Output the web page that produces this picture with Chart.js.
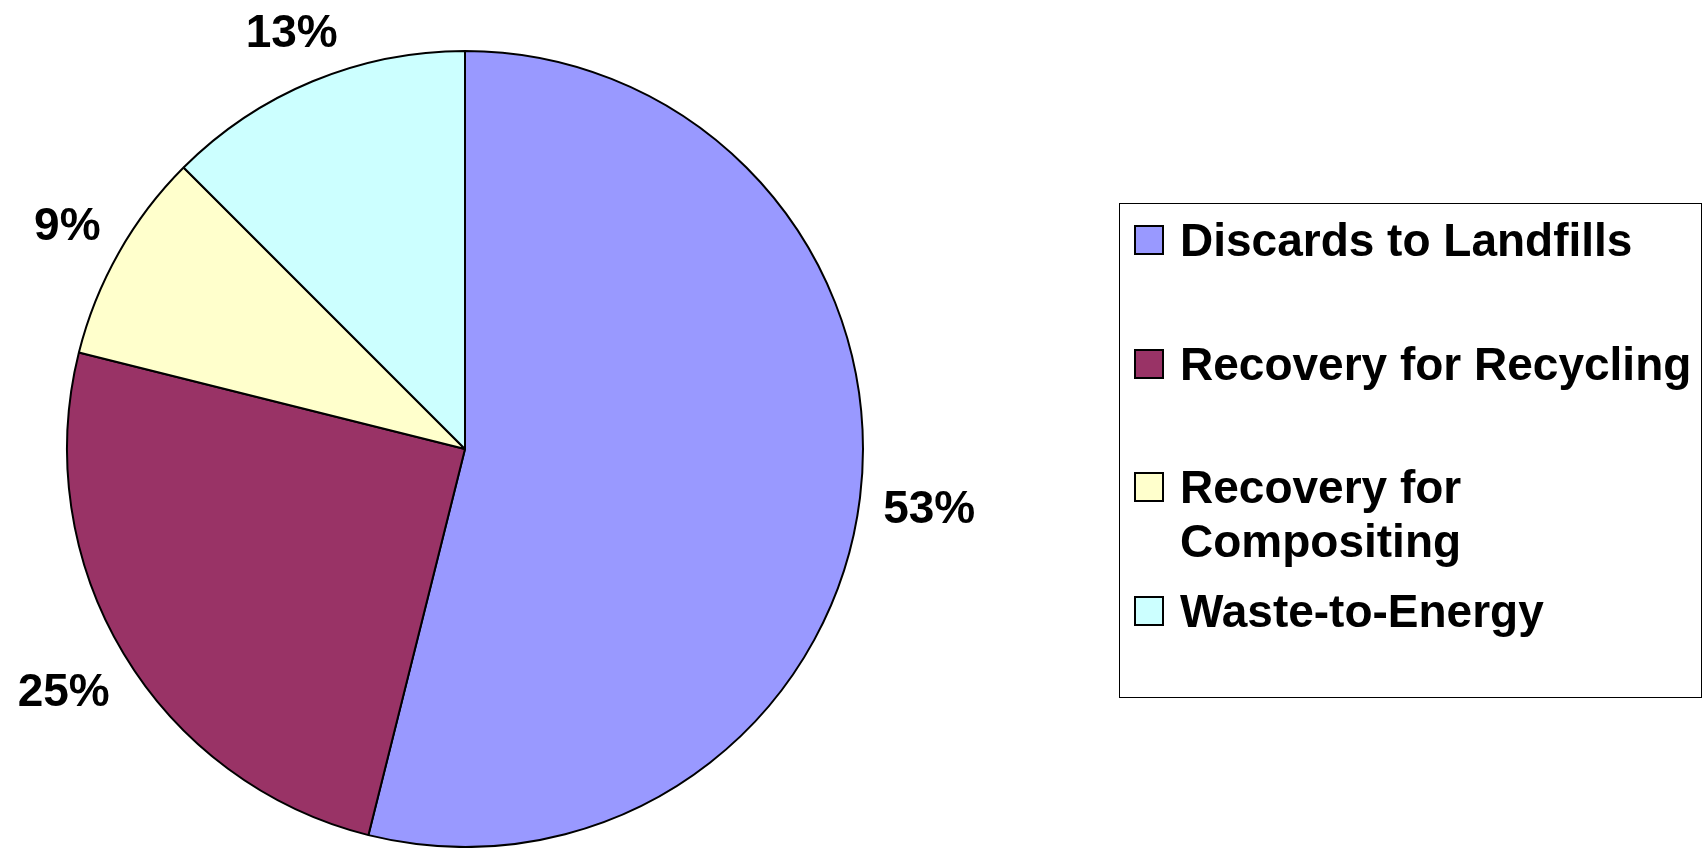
<!DOCTYPE html>
<html><head><meta charset="utf-8">
<script src="https://cdn.jsdelivr.net/npm/chart.js@4.4.0/dist/chart.umd.min.js"></script>
<style>html,body{margin:0;padding:0;background:#fff;overflow:hidden}
#wrap{position:relative;width:1708px;height:848px}</style>
</head><body><div id="wrap"><canvas id="c" width="1708" height="848"></canvas></div>
<script>
// ---- data ----
const categories = ["Discards to Landfills", "Recovery for Recycling", "Recovery for Compositing", "Waste-to-Energy"];
const shares = [53.9, 25.0, 8.6, 12.5];
const shareLabels = ["53%", "25%", "9%", "13%"];
const colors = ["#9999FF", "#993366", "#FFFFCC", "#CCFFFF"];

const FONT = 'bold 46px "Liberation Sans", Arial, Helvetica, sans-serif';
const CAP = 46 * 0.716;

const labelPlugin = {
  id: 'sliceLabels',
  afterDatasetsDraw(chart) {
    const ctx = chart.ctx;
    const meta = chart.getDatasetMeta(0);
    ctx.save();
    ctx.font = FONT;
    ctx.fillStyle = '#000';
    ctx.textAlign = 'center';
    ctx.textBaseline = 'alphabetic';
    meta.data.forEach((arc, i) => {
      const p = arc.getProps(['x', 'y', 'startAngle', 'endAngle', 'outerRadius'], true);
      const mid = (p.startAngle + p.endAngle) / 2;
      const w = ctx.measureText(shareLabels[i]).width;
      const d = p.outerRadius + 22 + Math.abs(Math.cos(mid)) * w / 2 + Math.abs(Math.sin(mid)) * CAP / 2;
      const cx = p.x + Math.cos(mid) * d;
      const cy = p.y + Math.sin(mid) * d;
      ctx.fillText(shareLabels[i], cx, cy + CAP / 2);
    });
    ctx.restore();
  }
};

const legendPlugin = {
  id: 'boxLegend',
  afterDraw(chart) {
    const ctx = chart.ctx;
    const L = {x: 1119, y: 203, w: 582, h: 494, swX: 1135, sw: 28, textX: 1180, lineH: 54, rows: [240, 364, 487, 611]};
    ctx.save();
    ctx.strokeStyle = '#000';
    ctx.lineWidth = 1;
    ctx.strokeRect(L.x + 0.5, L.y + 0.5, L.w, L.h);
    ctx.font = FONT;
    ctx.textAlign = 'left';
    ctx.textBaseline = 'alphabetic';
    const maxW = L.x + L.w - L.textX - 4;
    const labels = chart.data.labels;
    const bg = chart.data.datasets[0].backgroundColor;
    labels.forEach((lab, i) => {
      const words = lab.split(' ');
      const lines = [];
      let cur = '';
      words.forEach(wd => {
        const t = cur ? cur + ' ' + wd : wd;
        if (ctx.measureText(t).width > maxW && cur) { lines.push(cur); cur = wd; } else cur = t;
      });
      lines.push(cur);
      const cy = L.rows[i];
      ctx.fillStyle = bg[i];
      ctx.fillRect(L.swX, cy - L.sw / 2, L.sw, L.sw);
      ctx.lineWidth = 2;
      ctx.strokeStyle = '#000';
      ctx.strokeRect(L.swX, cy - L.sw / 2, L.sw, L.sw);
      ctx.fillStyle = '#000';
      lines.forEach((ln, k) => {
        ctx.fillText(ln, L.textX, cy + CAP / 2 + k * L.lineH);
      });
    });
    ctx.restore();
  }
};

new Chart(document.getElementById('c'), {
  type: 'pie',
  data: {
    labels: categories,
    datasets: [{
      data: shares,
      backgroundColor: colors,
      borderColor: '#000',
      borderWidth: 2,
      hoverOffset: 0
    }]
  },
  options: {
    responsive: false,
    devicePixelRatio: 1,
    animation: false,
    events: [],
    layout: {padding: {left: 65, top: 50, right: 843, bottom: -1}},
    plugins: {legend: {display: false}, tooltip: {enabled: false}}
  },
  plugins: [labelPlugin, legendPlugin]
});
</script>
</body></html>
